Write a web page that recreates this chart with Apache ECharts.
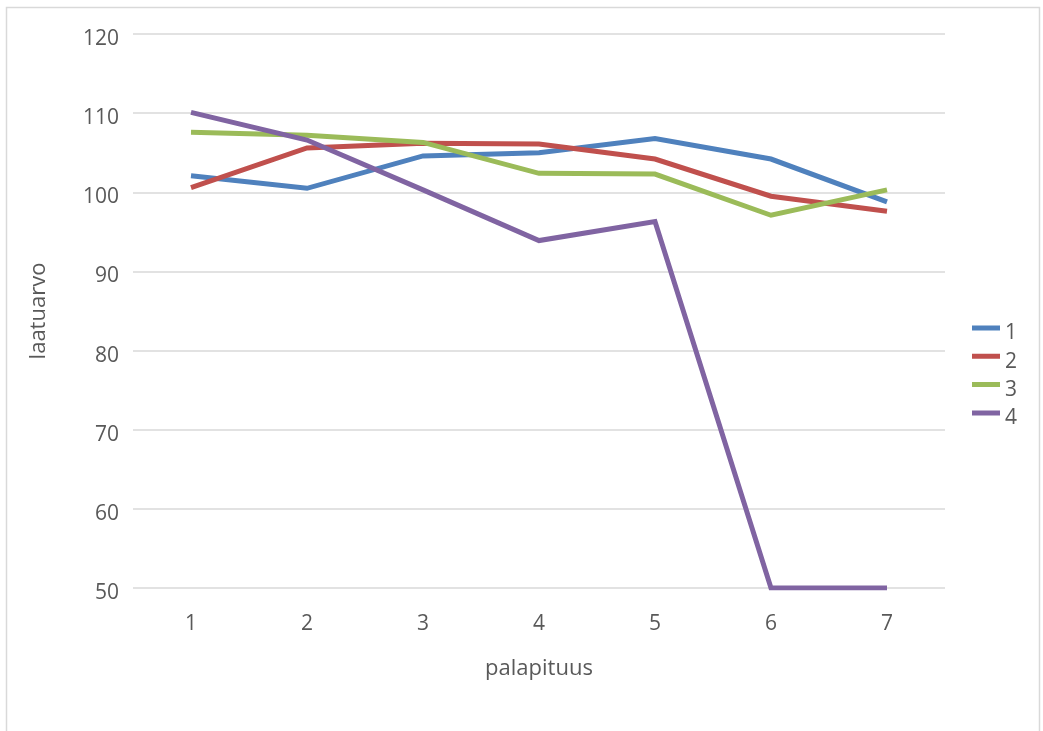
<!DOCTYPE html>
<html>
<head>
<meta charset="utf-8">
<script src="https://cdn.jsdelivr.net/npm/echarts@6/dist/echarts.min.js"></script>
<style>
  html, body { margin: 0; padding: 0; background: #fff; }
  #chart { width: 1043px; height: 731px; }
</style>
</head>
<body>
<div id="chart"></div>
<script>
// palapituus categories and laatuarvo per series
const categories = ['1', '2', '3', '4', '5', '6', '7'];
const series1 = [102.1, 100.5, 104.6, 105.0, 106.8, 104.2, 98.8];
const series2 = [100.6, 105.6, 106.2, 106.1, 104.2, 99.5, 97.6];
const series3 = [107.6, 107.2, 106.3, 102.4, 102.3, 97.1, 100.3];
const series4 = [110.1, 106.6, 100.3, 93.9, 96.3, 50, 50];
const seriesNames = ['1', '2', '3', '4'];
const colors = ['#4F81BD', '#C0504D', '#9BBB59', '#8064A2'];

const font = 'Open Sans, Liberation Sans, sans-serif';
const textColor = '#595959';

// legend swatch: a short bar sitting at the top of a taller box,
// so the label text lands slightly below it
const legendIcon = 'path://M0,0H28V5H0Z M0,16L28,16';

const chart = echarts.init(document.getElementById('chart'), null, { renderer: 'canvas' });

const mk = (name, data, color) => ({
  name,
  type: 'line',
  data,
  symbol: 'none',
  lineStyle: { color, width: 5, join: 'miter' },
  itemStyle: { color },
  animation: false
});

chart.setOption({
  backgroundColor: '#fff',
  animation: false,
  graphic: [{
    type: 'rect',
    shape: { x: 6.5, y: 7.5, width: 1033, height: 740 },
    style: { fill: 'none', stroke: '#d9d9d9', lineWidth: 1.5 },
    silent: true
  }],
  grid: { left: 133, right: 98, top: 34, bottom: 143, containLabel: false },
  legend: {
    orient: 'vertical',
    left: 972,
    top: 323,
    padding: 0,
    itemWidth: 28,
    itemHeight: 16,
    itemGap: 7.3,
    icon: legendIcon,
    itemStyle: { borderWidth: 0 },
    data: seriesNames,
    textStyle: { color: textColor, fontSize: 21, fontFamily: font, lineHeight: 16 }
  },
  xAxis: {
    type: 'category',
    data: categories,
    boundaryGap: true,
    name: 'palapituus',
    nameLocation: 'middle',
    nameGap: 70,
    nameTextStyle: { color: textColor, fontSize: 22, fontFamily: font },
    axisLine: { show: false },
    axisTick: { show: false },
    axisLabel: { color: textColor, fontSize: 21, fontFamily: font, margin: 26 }
  },
  yAxis: {
    type: 'value',
    min: 50,
    max: 120,
    interval: 10,
    name: 'laatuarvo',
    nameLocation: 'middle',
    nameGap: 83,
    nameRotate: 90,
    nameTextStyle: { color: textColor, fontSize: 22, fontFamily: font },
    axisLine: { show: false },
    axisTick: { show: false },
    axisLabel: {
      color: textColor, fontSize: 21, fontFamily: font, margin: 14,
      verticalAlign: 'top', lineHeight: 10
    },
    splitLine: { lineStyle: { color: '#d9d9d9', width: 1.5 } }
  },
  series: [
    mk(seriesNames[0], series1, colors[0]),
    mk(seriesNames[1], series2, colors[1]),
    mk(seriesNames[2], series3, colors[2]),
    mk(seriesNames[3], series4, colors[3])
  ]
});
</script>
</body>
</html>
